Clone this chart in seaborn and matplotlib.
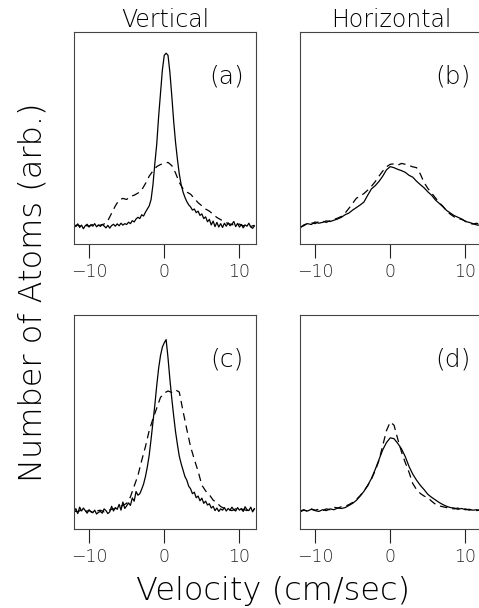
import numpy as np
import matplotlib
matplotlib.use("Agg")
import matplotlib.pyplot as plt
import seaborn as sns

# (a) vertical, solid on a 0.25 cm/sec grid, dashed on a 0.5 cm/sec grid
a_solid = [9.0, 8.2, 9.5, 7.8, 8.9, 7.2, 8.6, 9.3, 8.0, 9.1, 8.4, 9.6, 8.1, 9.0, 8.3, 9.2,
           8.5, 7.6, 8.8, 7.5, 8.7, 9.3, 8.4, 9.5, 8.6, 9.8, 8.9, 9.6, 9.2,
           10.3, 9.6, 11.0, 10.4, 11.8, 12.6, 12.0, 13.8, 13.2, 15.0, 16.5, 18.0, 21.0, 28.0, 38.0,
           47.0, 60.0, 71.0, 82.0, 89.0, 90.0, 89.0, 81.0, 70.0, 58.0, 48.0, 40.0, 33.0, 28.0,
           24.5, 22.0, 20.0, 18.5, 17.5, 16.0, 16.5, 14.8, 15.5, 13.5, 14.2, 12.0, 12.8, 10.5,
           11.6, 9.0, 10.8, 8.2, 10.2, 8.0, 9.6, 7.8, 9.8, 8.4, 10.0, 8.6, 9.4, 10.6, 8.2, 9.7,
           8.0, 9.2, 7.6, 9.0, 8.4, 9.8, 8.0, 7.4, 8.6]
a_dash = [8.6, 9.0, 8.2, 8.8, 8.4, 9.2, 8.6, 8.9, 9.4, 11.0, 14.5, 18.0, 20.8, 21.5, 21.0,
          22.5, 23.0, 24.0, 25.5, 28.5, 32.0, 34.5, 36.5, 37.5, 38.0, 38.5, 37.0, 33.5, 29.0,
          26.0, 24.5, 23.5, 21.5, 19.5, 18.0, 16.5, 15.5, 14.0, 12.5, 11.5, 10.5, 9.6, 9.2,
          8.8, 9.4, 8.6, 9.0, 8.3, 8.8]

# (b) horizontal
b_solid = [7.5, 9.0, 9.6, 9.2, 10.4, 9.8, 10.2, 10.9, 10.6, 11.2, 11.8, 12.6, 13.8, 14.6,
           16.0, 17.2, 18.4, 19.8, 23.0, 26.0, 27.5, 29.5, 32.0, 35.0, 36.5, 36.0, 35.2, 34.6,
           33.8, 32.4, 31.5, 29.6, 28.0, 26.5, 24.6, 23.0, 20.8, 19.2, 17.6, 15.8, 14.6, 13.4,
           12.6, 11.8, 10.6, 10.2, 9.6, 9.0, 8.8]
b_dash = [8.0, 8.6, 9.8, 10.0, 9.6, 10.6, 10.8, 10.2, 11.0, 11.6, 12.2, 13.0, 14.6, 16.8,
          19.2, 21.6, 22.6, 23.8, 25.4, 27.2, 29.4, 32.0, 34.4, 36.4, 37.6, 37.8, 37.2, 38.0,
          37.6, 37.0, 36.4, 36.0, 33.0, 29.0, 26.2, 24.0, 21.8, 19.6, 17.8, 15.6, 14.0, 12.8,
          12.0, 11.6, 10.8, 9.8, 9.4, 9.8, 9.0]

# (c) vertical
c_solid = [8.0, 9.5, 7.2, 10.2, 8.4, 9.8, 8.6, 7.4, 9.0, 8.0, 7.6, 8.8, 7.0, 7.8, 8.2, 7.4,
           9.4, 8.6, 7.2, 8.0, 10.6, 8.4, 10.0, 9.2, 11.5, 8.8, 12.6, 9.6, 10.8, 12.2, 11.0,
           14.5, 13.0, 17.5, 15.8, 16.5, 18.6, 21.0, 24.5, 29.0, 34.5, 42.0, 50.0, 58.0, 67.0,
           75.0, 81.0, 85.0, 87.0, 88.5, 80.0, 70.0, 61.0, 53.0, 45.5, 39.5, 34.0, 30.5, 27.5,
           24.5, 22.8, 20.0, 18.8, 16.5, 17.2, 14.6, 15.4, 13.2, 14.4, 12.0, 13.0, 11.2, 11.8,
           9.8, 10.6, 8.6, 9.8, 8.2, 9.4, 8.8, 10.0, 8.4, 9.6, 8.8, 10.2, 9.0, 8.4, 10.0, 8.8,
           9.6, 8.2, 10.4, 9.0, 8.6, 10.2, 8.0, 9.6]
c_dash = [8.4, 8.0, 9.0, 8.2, 8.6, 7.8, 8.4, 8.8, 8.0, 8.6, 9.2, 9.6, 10.4, 11.0, 12.0,
          15.0, 20.0, 25.0, 32.0, 38.5, 46.0, 51.5, 56.5, 61.5, 63.5, 64.5, 63.8, 65.0, 64.0,
          55.0, 46.5, 38.5, 32.5, 27.0, 20.5, 17.8, 16.0, 13.5, 12.2, 10.5, 9.6, 9.0, 8.6,
          9.4, 8.8, 9.2, 8.6, 9.4, 9.0]

# (d) horizontal
d_solid = [8.0, 8.8, 8.4, 9.2, 8.6, 8.2, 9.0, 8.6, 9.4, 9.0, 9.8, 9.6, 10.0, 11.0, 12.0,
           13.4, 15.4, 17.6, 20.4, 23.6, 27.8, 32.4, 37.0, 40.4, 42.6, 42.2, 40.0, 37.4, 33.8,
           29.2, 25.6, 22.8, 20.4, 18.4, 16.2, 14.8, 13.6, 12.4, 11.4, 10.6, 10.0, 9.8, 9.2,
           9.6, 9.0, 9.2, 8.8, 9.0, 8.6]
d_dash = [8.4, 9.0, 8.2, 9.4, 8.8, 9.2, 8.6, 9.4, 9.0, 10.2, 9.8, 10.4, 10.6, 11.4, 12.4,
          13.8, 15.6, 17.8, 20.2, 23.4, 27.2, 32.0, 39.0, 46.0, 50.0, 48.5, 42.0, 36.0, 31.0,
          26.5, 21.2, 18.4, 16.6, 15.4, 14.6, 13.0, 11.6, 10.8, 10.4, 10.0, 9.6, 9.4, 9.8,
          9.0, 9.4, 8.8, 9.2, 8.6, 9.0]

tick_vals = [-10, 0, 10]
tick_labels = ["\u221210", "0", "10"]

sns.set_style("ticks")
plt.rcParams["font.family"] = ["DejaVu Sans"]
plt.rcParams["font.weight"] = "light"
plt.rcParams["text.color"] = "black"

fig = plt.figure(figsize=(4.79, 6.08), dpi=100)

W, H = 479, 608
# axes boxes in pixels: left, top, right, bottom
boxes = {
    "a": (74, 32, 256, 244),
    "b": (300, 32, 482, 244),
    "c": (74, 315, 256, 529),
    "d": (300, 315, 482, 529),
}
panels = {
    "a": (a_solid, a_dash),
    "b": (b_solid, b_dash),
    "c": (c_solid, c_dash),
    "d": (d_solid, d_dash),
}

for key, (l, t, r, b) in boxes.items():
    ax = fig.add_axes([l / W, 1 - b / H, (r - l) / W, (b - t) / H])
    solid, dash = panels[key]
    sns.lineplot(x=np.linspace(-12, 12, len(solid)), y=solid, ax=ax, color="black", lw=0.9)
    sns.lineplot(x=np.linspace(-12, 12, len(dash)), y=dash, ax=ax, color="black",
                 lw=0.9, linestyle=(0, (6, 4)))
    ax.set_xlim(-12, 12.2)
    ax.set_ylim(0, 100)
    ax.set_yticks([])
    ax.set_xticks(tick_vals)
    ax.set_xticklabels(tick_labels, fontsize=12.5, fontweight="light", color="black")
    ax.tick_params(axis="x", direction="out", length=10, width=0.8, pad=4, colors="#222222")
    for sp in ax.spines.values():
        sp.set_visible(True)
        sp.set_linewidth(0.8)
        sp.set_color("#444444")
    ax.text(0.84, 0.79, f"({key})", transform=ax.transAxes, ha="center", va="center",
            fontsize=18, fontweight="light", color="black")
    if key == "a":
        ax.set_title("Vertical", fontsize=17, pad=3, fontweight="light")
    if key == "b":
        ax.set_title("Horizontal", fontsize=17, pad=3, fontweight="light")

fig.text(33 / W, 1 - 292 / H, "Number of Atoms (arb.)", rotation=90, ha="center",
         va="center", fontsize=23, fontweight="light", color="black")
fig.text(273 / W, 1 - 591 / H, "Velocity (cm/sec)", ha="center", va="center",
         fontsize=23, fontweight="light", color="black")

fig.savefig("out.png", dpi=100)
